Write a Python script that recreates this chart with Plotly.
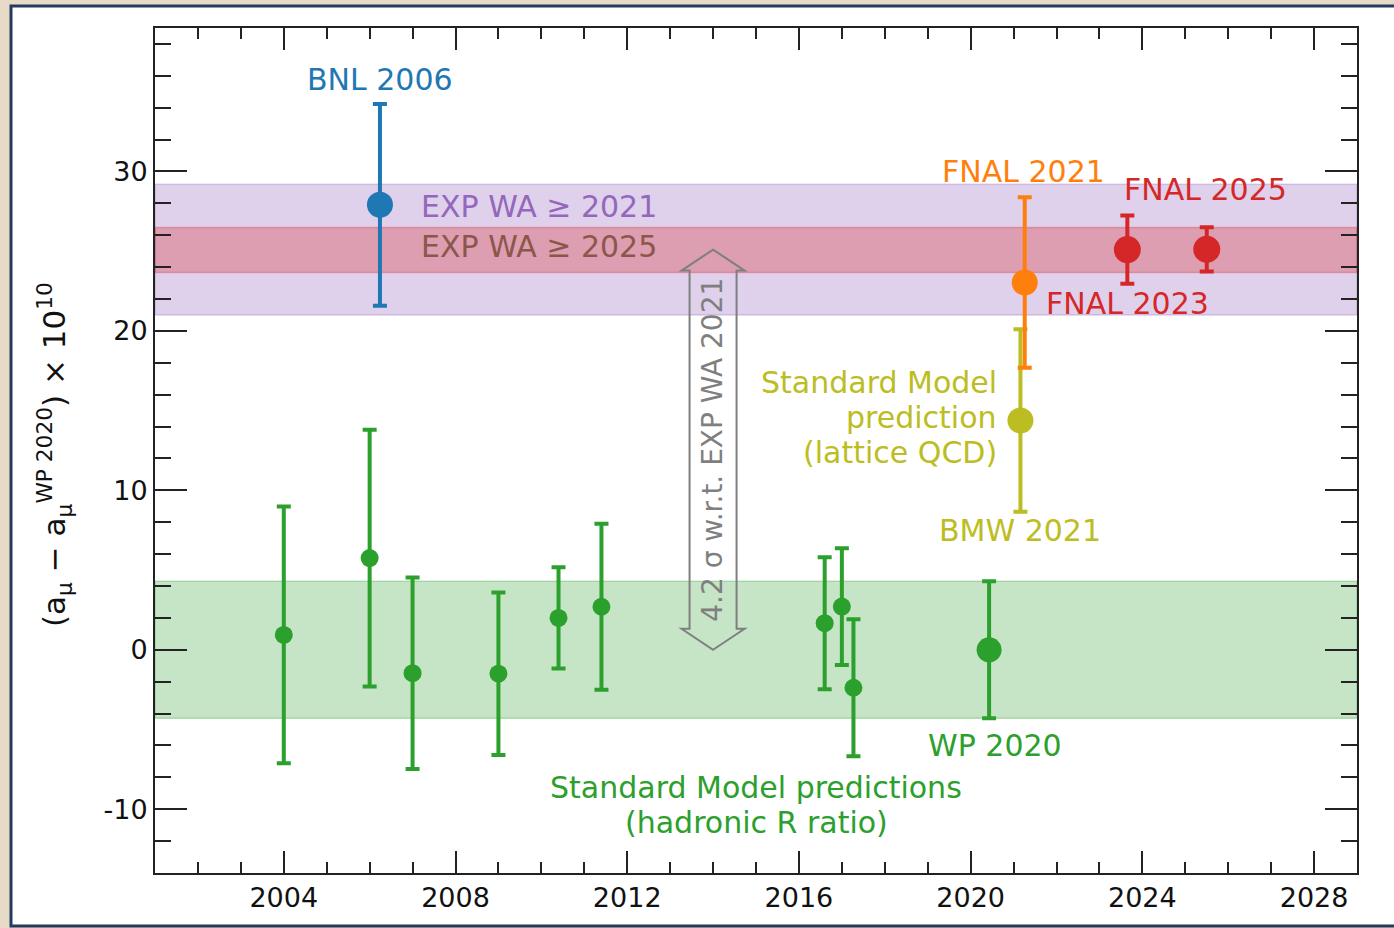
import plotly.graph_objects as go

# ---------------- data ----------------
sm_years = [2004.0, 2006.0, 2007.0, 2009.0, 2010.4, 2011.4, 2016.6, 2017.0, 2017.27]
sm_vals = [0.93, 5.75, -1.47, -1.5, 2.0, 2.7, 1.67, 2.71, -2.38]
sm_errs = [8.05, 8.05, 6.0, 5.1, 3.17, 5.2, 4.14, 3.66, 4.29]

wp_year = [2020.43]
wp_val = [0.0]
wp_err = [4.3]

bmw_year = [2021.16]
bmw_val = [14.38]
bmw_err = [5.72]

fnal21_year = [2021.26]
fnal21_val = [23.04]
fnal21_err = [5.35]

fnal_years = [2023.65, 2025.5]
fnal_vals = [25.1, 25.12]
fnal_errs = [2.14, 1.39]

bnl_year = [2006.24]
bnl_val = [27.91]
bnl_err = [6.33]

wa2021_center, wa2021_half = 25.1, 4.1
wa2025_center, wa2025_half = 25.08, 1.41
wp_band_center, wp_band_half = 0.0, 4.3

x_major = [2004, 2008, 2012, 2016, 2020, 2024, 2028]
x_minor = list(range(2002, 2029))
y_major = [-10, 0, 10, 20, 30]
y_major_text = ["-10", "0", "10", "20", "30"]
y_minor = list(range(-14, 40, 2))

arrow_x = 2014.0
sigma_text = "4.2 σ w.r.t. EXP WA 2021"

# ---------------- style ----------------
FONT = "DejaVu Sans"
C_GREEN = "#2ca02c"
C_OLIVE = "#bcbd22"
C_ORANGE = "#ff7f0e"
C_RED = "#d62728"
C_BLUE = "#1f77b4"
C_PURPLE = "#9467bd"
C_BROWN = "#8c564b"
C_GREY = "#7f7f7f"
AX = "#222222"

W, H = 1394, 928
ML, MR, MT, MB = 155, 37, 28, 55
XR = [2001, 2029]
YR = [-14, 39]
px_per_y = (H - MT - MB) / (YR[1] - YR[0])


def px_x(p):
    return (p - ML) / (W - ML - MR)


def px_y(p):
    return (H - MB - p) / (H - MT - MB)


fig = go.Figure()


def add_points(xs, ys, es, color, size):
    fig.add_trace(go.Scatter(
        x=xs, y=ys, mode="markers",
        marker=dict(color=color, size=size, line=dict(width=0)),
        error_y=dict(type="data", array=es, visible=True, color=color,
                     thickness=4, width=7),
        hoverinfo="skip", cliponaxis=False,
    ))


add_points(sm_years, sm_vals, sm_errs, C_GREEN, 18)
add_points(wp_year, wp_val, wp_err, C_GREEN, 25)
add_points(bmw_year, bmw_val, bmw_err, C_OLIVE, 26)
add_points(fnal21_year, fnal21_val, fnal21_err, C_ORANGE, 26)
add_points(fnal_years, fnal_vals, fnal_errs, C_RED, 27)
add_points(bnl_year, bnl_val, bnl_err, C_BLUE, 26)

shapes = []
# outer frame
shapes.append(dict(type="rect", xref="paper", yref="paper",
                   x0=px_x(11), x1=px_x(1420), y0=px_y(926), y1=px_y(6),
                   fillcolor="white", line=dict(color="#243b60", width=3),
                   layer="below"))
# bands
shapes.append(dict(type="rect", xref="x", yref="y", x0=XR[0], x1=XR[1],
                   y0=wp_band_center - wp_band_half, y1=wp_band_center + wp_band_half,
                   fillcolor="rgba(44,160,44,0.27)",
                   line=dict(color="rgba(44,160,44,0.3)", width=1.5), layer="below"))
shapes.append(dict(type="rect", xref="x", yref="y", x0=XR[0], x1=XR[1],
                   y0=wa2021_center - wa2021_half, y1=wa2021_center + wa2021_half,
                   fillcolor="rgba(148,103,189,0.3)",
                   line=dict(color="rgba(148,103,189,0.3)", width=1.5), layer="below"))
shapes.append(dict(type="rect", xref="x", yref="y", x0=XR[0], x1=XR[1],
                   y0=wa2025_center - wa2025_half, y1=wa2025_center + wa2025_half,
                   fillcolor="rgba(214,39,40,0.3)",
                   line=dict(color="rgba(214,39,40,0.3)", width=1.5), layer="below"))

# hollow double-headed arrow
y0a, y1a = wp_val[0], wa2021_center
head = 21 / px_per_y
sw, hw = 23.5, 31.5
path = (f"M 0,{y0a} L {hw},{y0a + head} L {sw},{y0a + head} L {sw},{y1a - head} "
        f"L {hw},{y1a - head} L 0,{y1a} L {-hw},{y1a - head} L {-sw},{y1a - head} "
        f"L {-sw},{y0a + head} L {-hw},{y0a + head} Z")
shapes.append(dict(type="path", xref="x", yref="y", xsizemode="pixel",
                   xanchor=arrow_x, path=path,
                   line=dict(color=C_GREY, width=2), fillcolor="rgba(0,0,0,0)",
                   layer="above"))

annotations = []


def label(text, x, y, color, size=30, xanchor="center", angle=0):
    annotations.append(dict(text=text, x=x, y=y, xref="x", yref="y",
                            showarrow=False, xanchor=xanchor, yanchor="middle",
                            textangle=angle,
                            font=dict(family=FONT, size=size, color=color)))


label("BNL 2006", 2006.24, 35.8, C_BLUE)
label("EXP WA ≥ 2021", 2007.16, 27.8, C_PURPLE, xanchor="left")
label("EXP WA ≥ 2025", 2007.16, 25.28, C_BROWN, xanchor="left")
label("FNAL 2021", 2021.23, 30.0, C_ORANGE)
label("FNAL 2025", 2025.47, 28.85, C_RED)
label("FNAL 2023", 2023.66, 21.7, C_RED)
label("Standard Model", 2020.65, 16.75, C_OLIVE, xanchor="right")
label("prediction", 2020.65, 14.55, C_OLIVE, xanchor="right")
label("(lattice QCD)", 2020.65, 12.35, C_OLIVE, xanchor="right")
label("BMW 2021", 2021.15, 7.46, C_OLIVE)
label("WP 2020", 2020.57, -6.0, C_GREEN)
label("Standard Model predictions", 2015.01, -8.65, C_GREEN)
label("(hadronic R ratio)", 2015.01, -10.85, C_GREEN)
label(sigma_text, arrow_x, (y0a + y1a) / 2, C_GREY, size=28, angle=-90)

# y-axis title
annotations.append(dict(
    text="(a<sub>μ</sub> − a<sub>μ</sub><sup>WP 2020</sup>) × 10<sup>10</sup>",
    x=px_x(54), y=px_y(455), xref="paper", yref="paper", showarrow=False,
    textangle=-90, xanchor="center", yanchor="middle",
    font=dict(family=FONT, size=31, color="#111111")))

axis_common = dict(showline=True, linewidth=2, linecolor=AX, mirror="allticks",
                   ticks="inside", tickwidth=2, tickcolor=AX, showgrid=False,
                   zeroline=False,
                   tickfont=dict(family=FONT, size=27, color="#111111"))

fig.update_xaxes(range=XR, tickvals=x_major, ticklen=22,
                 minor=dict(tickvals=x_minor, ticklen=11, tickwidth=2,
                            tickcolor=AX, ticks="inside", showgrid=False),
                 **axis_common)
fig.update_yaxes(range=YR, tickvals=y_major, ticktext=y_major_text, ticklen=32,
                 minor=dict(tickvals=y_minor, ticklen=16, tickwidth=2,
                            tickcolor=AX, ticks="inside", showgrid=False),
                 **axis_common)

fig.update_layout(width=W, height=H, margin=dict(l=ML, r=MR, t=MT, b=MB),
                  paper_bgcolor="#e7dac7", plot_bgcolor="white",
                  showlegend=False, shapes=shapes, annotations=annotations,
                  font=dict(family=FONT))

fig.write_html("out.html",
               config={"displayModeBar": False},
               post_script="document.body.style.margin='0px';"
                           "document.body.style.overflow='hidden';")
